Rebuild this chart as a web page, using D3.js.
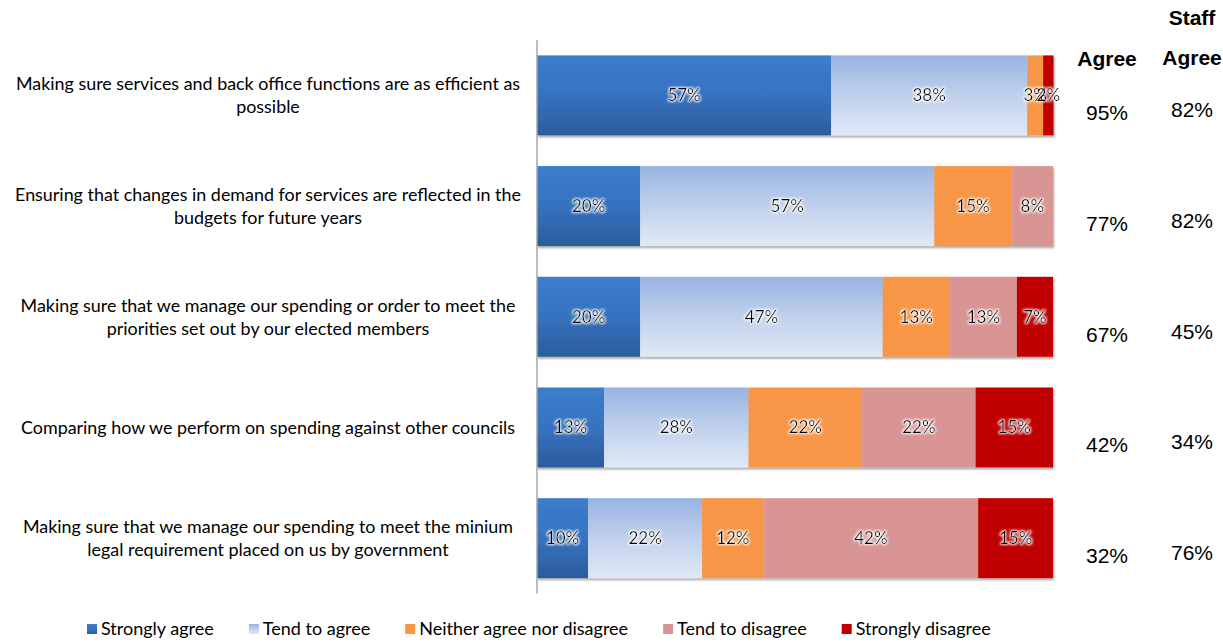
<!DOCTYPE html>
<html>
<head>
<meta charset="utf-8">
<script src="https://cdn.jsdelivr.net/npm/d3@7"></script>
<style>
  html, body { margin: 0; padding: 0; background: #ffffff; }
  svg { display: block; }
</style>
</head>
<body>
<svg id="chart" width="1223" height="642"></svg>
<script>
// ---------- data ----------
const categories = [
  ["Making sure services and back office functions are as efficient as", "possible"],
  ["Ensuring that changes in demand for services are reflected in the", "budgets for future years"],
  ["Making sure that we manage our spending or order to meet the", "priorities set out by our elected members"],
  ["Comparing how we perform on spending against other councils"],
  ["Making sure that we manage our spending to meet the minium", "legal requirement placed on us by government"]
];
const seriesNames = ["Strongly agree", "Tend to agree", "Neither agree nor disagree", "Tend to disagree", "Strongly disagree"];
const stronglyAgree    = [57, 20, 20, 13, 9.9];
const tendToAgree      = [38, 57, 47, 28, 22.1];
const neither          = [3.1, 15, 13, 22, 11.9];
const tendToDisagree   = [0, 8, 13, 22, 41.6];
const stronglyDisagree = [2, 0, 7, 15, 14.5];
const agreeTotals      = ["95%", "77%", "67%", "42%", "32%"];
const staffAgree       = ["82%", "82%", "45%", "34%", "76%"];
const xTicks = [0, 100];

const seriesValues = [stronglyAgree, tendToAgree, neither, tendToDisagree, stronglyDisagree];

// ---------- setup ----------
const svg = d3.select("#chart");
const plotLeft = 537, plotRight = 1053;

const x = d3.scaleLinear().domain(d3.extent(xTicks)).range([plotLeft, plotRight]);
const y = d3.scaleBand().domain(d3.range(categories.length)).range([40, 593.5]).paddingInner(0.278).paddingOuter(0.139);

const defs = svg.append("defs");
function vGrad(id, stops) {
  const g = defs.append("linearGradient").attr("id", id).attr("x1", 0).attr("y1", 0).attr("x2", 0).attr("y2", 1);
  stops.forEach(s => g.append("stop").attr("offset", s[0]).attr("stop-color", s[1]));
}
vGrad("gSA", [[0, "#3b7dcd"], [0.5, "#3672c0"], [1, "#2c5c9a"]]);
vGrad("gTA", [[0, "#98b4e2"], [0.5, "#c0d0ec"], [1, "#e0e8f5"]]);
const fills = ["url(#gSA)", "url(#gTA)", "#f79646", "#d99594", "#c00000"];

// shadow
const sh = defs.append("filter").attr("id", "shadow").attr("x", "-5%").attr("y", "-10%").attr("width", "110%").attr("height", "130%");
sh.append("feDropShadow").attr("dx", 1).attr("dy", 2).attr("stdDeviation", 1.2).attr("flood-color", "#000").attr("flood-opacity", 0.35);

// glow for labels
const gl = defs.append("filter").attr("id", "glow").attr("x", "-20%").attr("y", "-40%").attr("width", "140%").attr("height", "180%");
gl.append("feMorphology").attr("in", "SourceAlpha").attr("operator", "dilate").attr("radius", 1).attr("result", "d");
gl.append("feGaussianBlur").attr("in", "d").attr("stdDeviation", 1.3).attr("result", "b");
gl.append("feFlood").attr("flood-color", "#ffffff").attr("flood-opacity", 0.9).attr("result", "w");
gl.append("feComposite").attr("in", "w").attr("in2", "b").attr("operator", "in").attr("result", "halo");
const gm = gl.append("feMerge");
gm.append("feMergeNode").attr("in", "halo");
gm.append("feMergeNode").attr("in", "SourceGraphic");

// ---------- stacked data ----------
const rows = categories.map((c, i) => {
  let acc = 0;
  const segs = seriesValues.map((arr, s) => {
    const v = arr[i];
    const seg = { s, v, x0: acc, x1: acc + v };
    acc += v;
    return seg;
  }).filter(d => d.v > 0);
  return { i, segs };
});

// bars
const rowG = svg.append("g").selectAll("g.row").data(rows).join("g")
  .attr("class", "row").attr("filter", "url(#shadow)");
rowG.selectAll("rect").data(d => d.segs.map(s => Object.assign({ i: d.i }, s))).join("rect")
  .attr("x", d => x(d.x0))
  .attr("y", d => y(d.i))
  .attr("width", d => x(d.x1) - x(d.x0))
  .attr("height", y.bandwidth())
  .attr("fill", d => fills[d.s]);

// axis line
svg.append("g").attr("transform", `translate(${plotLeft},0)`)
  .call(d3.axisLeft(y).tickSize(0).tickFormat(""))
  .call(g => g.select(".domain").attr("stroke", "#a6a6a6").attr("stroke-width", 1.5)
    .attr("d", `M0,40V593.5`));

// data labels
const lblG = svg.append("g").attr("filter", "url(#glow)");
rows.forEach(r => {
  lblG.selectAll(null).data(r.segs).join("text")
    .attr("x", d => (x(d.x0) + x(d.x1)) / 2)
    .attr("y", y(r.i) + y.bandwidth() / 2)
    .attr("dy", "0.35em")
    .attr("text-anchor", "middle")
    .attr("font-family", "Lato, 'Open Sans', sans-serif")
    .attr("font-size", 17)
    .attr("fill", "#000")
    .text(d => Math.round(d.v) + "%");
});

// category labels
const catG = svg.append("g");
categories.forEach((lines, i) => {
  const cy = y(i) + y.bandwidth() / 2;
  const lh = 23;
  const start = cy - (lines.length - 1) * lh / 2;
  const t = catG.append("text")
    .attr("text-anchor", "middle")
    .attr("font-family", "Lato, 'Open Sans', sans-serif")
    .attr("font-size", 17.9)
    .attr("fill", "#000");
  lines.forEach((ln, k) => {
    t.append("tspan").attr("x", 268).attr("y", start + k * lh).attr("dy", "0.35em").text(ln);
  });
});

// right columns
const colAgreeX = 1107, colStaffX = 1192;
const hdrFont = "'Liberation Sans', Arial, sans-serif";
svg.append("text").attr("x", colAgreeX).attr("y", 66).attr("text-anchor", "middle")
  .attr("font-family", hdrFont).attr("font-weight", "bold").attr("font-size", 21).text("Agree");
svg.append("text").attr("x", colStaffX).attr("y", 25).attr("text-anchor", "middle")
  .attr("font-family", hdrFont).attr("font-weight", "bold").attr("font-size", 21).text("Staff");
svg.append("text").attr("x", colStaffX).attr("y", 65).attr("text-anchor", "middle")
  .attr("font-family", hdrFont).attr("font-weight", "bold").attr("font-size", 21).text("Agree");

svg.append("g").selectAll("text").data(agreeTotals).join("text")
  .attr("x", colAgreeX).attr("y", (d, i) => y(i) + y.bandwidth() / 2 + 25)
  .attr("text-anchor", "middle").attr("font-family", hdrFont).attr("font-size", 21).text(d => d);
svg.append("g").selectAll("text").data(staffAgree).join("text")
  .attr("x", colStaffX).attr("y", (d, i) => y(i) + y.bandwidth() / 2 + 22)
  .attr("text-anchor", "middle").attr("font-family", hdrFont).attr("font-size", 21).text(d => d);

// legend
const legFills = ["url(#gSA)", "url(#gTA)", "#f79646", "#d99594", "#c00000"];
const leg = svg.append("g");
let lx = 87;
seriesNames.forEach((n, i) => {
  leg.append("rect").attr("x", lx).attr("y", 624).attr("width", 10).attr("height", 10).attr("fill", legFills[i]);
  const t = leg.append("text").attr("x", lx + 14).attr("y", 635)
    .attr("font-family", "Lato, 'Open Sans', sans-serif").attr("font-size", 18).attr("fill", "#000").text(n);
  lx += 14 + t.node().getComputedTextLength() + 35;
});
</script>
</body>
</html>
